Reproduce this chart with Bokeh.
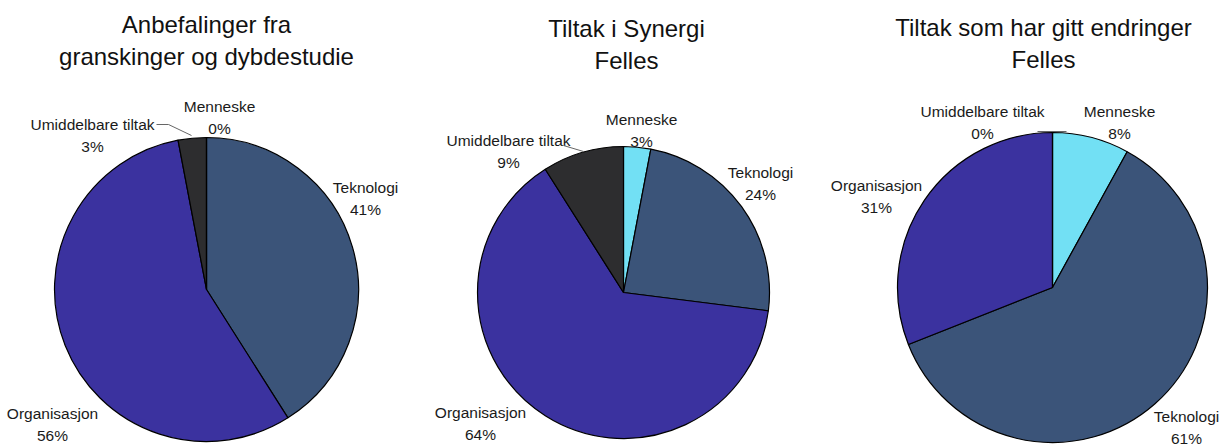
import math
from bokeh.plotting import figure
from bokeh.models import Range1d, ColumnDataSource
from bokeh.core.properties import value
from bokeh.embed import file_html
from bokeh.resources import INLINE

# ---- data ----
categories = ["Menneske", "Teknologi", "Organisasjon", "Umiddelbare tiltak"]
titles = ["Anbefalinger fra\ngranskinger og dybdestudie",
          "Tiltak i Synergi\nFelles",
          "Tiltak som har gitt endringer\nFelles"]
values_1 = [0, 41, 56, 3]
values_2 = [3, 24, 64, 9]
values_3 = [8, 61, 31, 0]
pies = [values_1, values_2, values_3]

colors = {"Menneske": "#72E0F4", "Teknologi": "#3B5479",
          "Organisasjon": "#3B329F", "Umiddelbare tiltak": "#2D2D2F"}

# ---- layout (page pixel coordinates) ----
W, H = 1228, 448
centers = [(206, 289), (623, 292), (1052, 287)]
radii = [152, 146, 155]
title_pos = [(206, 40), (626, 44), (1043, 43)]
label_pos = [
    {"Menneske": (219, 117), "Teknologi": (365, 198), "Organisasjon": (52, 424), "Umiddelbare tiltak": (92, 135)},
    {"Menneske": (641, 130), "Teknologi": (760, 183), "Organisasjon": (480, 423), "Umiddelbare tiltak": (508, 151)},
    {"Menneske": (1119, 122), "Teknologi": (1186, 427), "Organisasjon": (876, 196), "Umiddelbare tiltak": (982, 122)},
]
leaders = [([156, 168, 191], [124, 124, 135]),
           ([563, 583], [145, 151]),
           ([1037, 1066], [131, 131])]

def Y(py):
    return H - py

p = figure(width=W, height=H, output_backend="svg", toolbar_location=None,
           x_range=Range1d(0, W), y_range=Range1d(0, H), min_border=0)
p.axis.visible = False
p.grid.visible = False
p.outline_line_color = None
p.background_fill_color = "white"

font = value("Liberation Sans")

for i, vals in enumerate(pies):
    cx, cy = centers[i]
    total = float(sum(vals))
    xs, ys, st, en, col = [], [], [], [], []
    cum = 0.0
    for cat, v in zip(categories, vals):
        a0 = math.pi / 2 - 2 * math.pi * cum / total
        cum += v
        a1 = math.pi / 2 - 2 * math.pi * cum / total
        if v > 0:
            xs.append(cx); ys.append(Y(cy)); st.append(a0); en.append(a1); col.append(colors[cat])
    src = ColumnDataSource(dict(x=xs, y=ys, s=st, e=en, c=col))
    p.wedge(x="x", y="y", radius=radii[i], start_angle="s", end_angle="e",
            direction="clock", fill_color="c", line_color="#000000", line_width=1.2, source=src)
    # zero slices: draw their boundary line
    cum = 0.0
    for cat, v in zip(categories, vals):
        if v == 0:
            a = math.pi / 2 - 2 * math.pi * cum / total
            p.line([cx, cx + radii[i] * math.cos(a)], [Y(cy), Y(cy) + radii[i] * math.sin(a)],
                   line_color="#000000", line_width=1.2)
        cum += v

    # labels
    lx, ly, lt = [], [], []
    for cat, v in zip(categories, vals):
        x, y = label_pos[i][cat]
        lx.append(x); ly.append(Y(y)); lt.append(f"{cat}\n{v}%")
    p.text(x=lx, y=ly, text=lt, text_font=font, text_font_size="15.5px",
           text_align="center", text_baseline="middle", text_line_height=1.25,
           text_color="#1a1a1a")

    tx, ty = title_pos[i]
    p.text(x=[tx], y=[Y(ty)], text=[titles[i]], text_font=font, text_font_size="24px",
           text_align="center", text_baseline="middle", text_line_height=1.22,
           text_color="#111111")

for xs_, ys_ in leaders:
    p.line(xs_, [Y(v) for v in ys_], line_color="#666666", line_width=1)

open("out.html", "w").write(file_html(p, INLINE))
